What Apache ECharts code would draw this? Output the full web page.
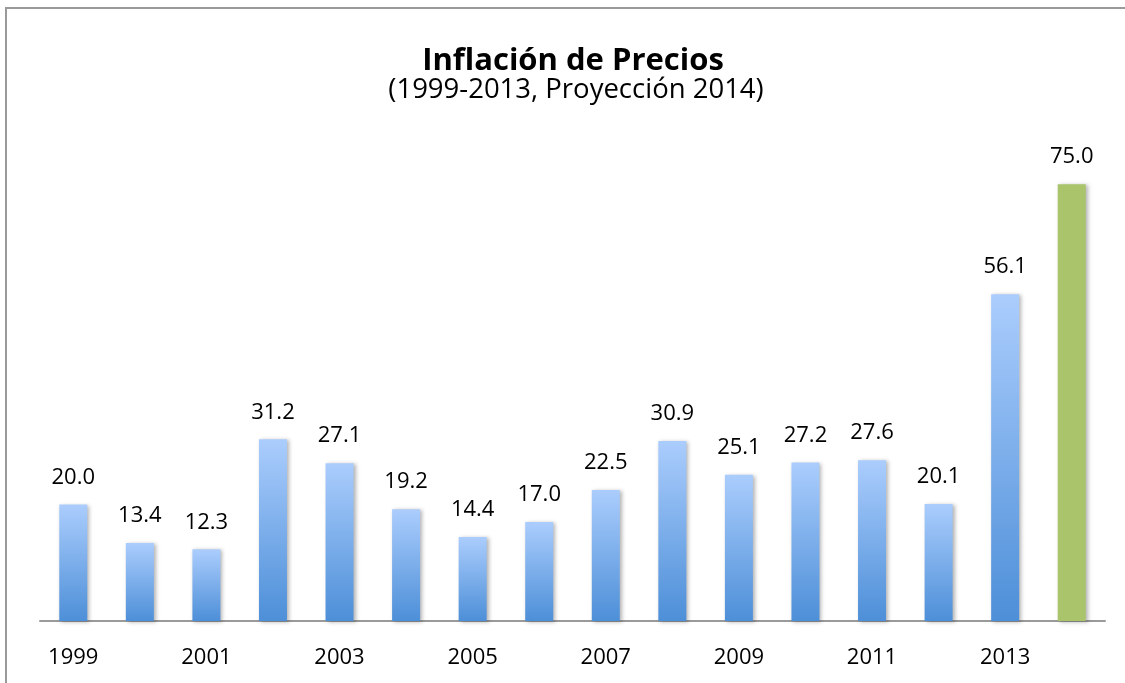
<!DOCTYPE html>
<html><head><meta charset="utf-8">
<script src="https://cdn.jsdelivr.net/npm/echarts@6/dist/echarts.min.js"></script>
<style>html,body{margin:0;padding:0;background:#fff}#c{width:1125px;height:683px}</style>
</head><body><div id="c"></div>
<script>
const years = ['1999','2000','2001','2002','2003','2004','2005','2006','2007','2008','2009','2010','2011','2012','2013','2014'];
const inflation = [20.0,13.4,12.3,31.2,27.1,19.2,14.4,17.0,22.5,30.9,25.1,27.2,27.6,20.1,56.1,75.0];
const projectedYear = '2014';
const titleText = 'Inflación de Precios';
const subtitleText = '(1999-2013, Proyección 2014)';

const chart = echarts.init(document.getElementById('c'));
const blueGrad = new echarts.graphic.LinearGradient(0,0,0,1,[{offset:0,color:'#abcdfd'},{offset:1,color:'#4d8fd8'}]);
const data = years.map((y,i)=>({
  value: inflation[i],
  itemStyle: y===projectedYear ? {color:'#a9c46a'} : {color: blueGrad}
}));
chart.setOption({
  animation:false,
  textStyle:{fontFamily:'Open Sans'},
  graphic:[
    {type:'rect',shape:{x:6,y:8,width:1300,height:900},style:{fill:'none',stroke:'#9a9a9a',lineWidth:2},silent:true,z:-1},
    {type:'text',x:573,y:61,style:{text:titleText,font:'bold 31px "Open Sans"',fill:'#000',align:'center',verticalAlign:'middle'}},
    {type:'text',x:576,y:90,style:{text:subtitleText,font:'27.5px "Open Sans"',fill:'#000',align:'center',verticalAlign:'middle'}}
  ],
  grid:{left:40,right:20,top:155,bottom:62},
  xAxis:{type:'category',data:years,
    axisLine:{lineStyle:{color:'#9a9a9a',width:2}},
    axisTick:{show:false},
    axisLabel:{interval:1,color:'#000',fontSize:22,margin:26,fontFamily:'Open Sans'}},
  yAxis:{type:'value',min:0,max:80,show:false,splitLine:{show:false}},
  series:[{type:'bar',data:data,barWidth:28,
    itemStyle:{shadowBlur:4,shadowColor:'rgba(0,0,0,0.3)',shadowOffsetX:2,shadowOffsetY:1},
    label:{show:true,position:'top',distance:16,color:'#000',fontSize:22,fontFamily:'Open Sans',
      formatter:p=>p.value.toFixed(1)}}]
});
</script></body></html>
